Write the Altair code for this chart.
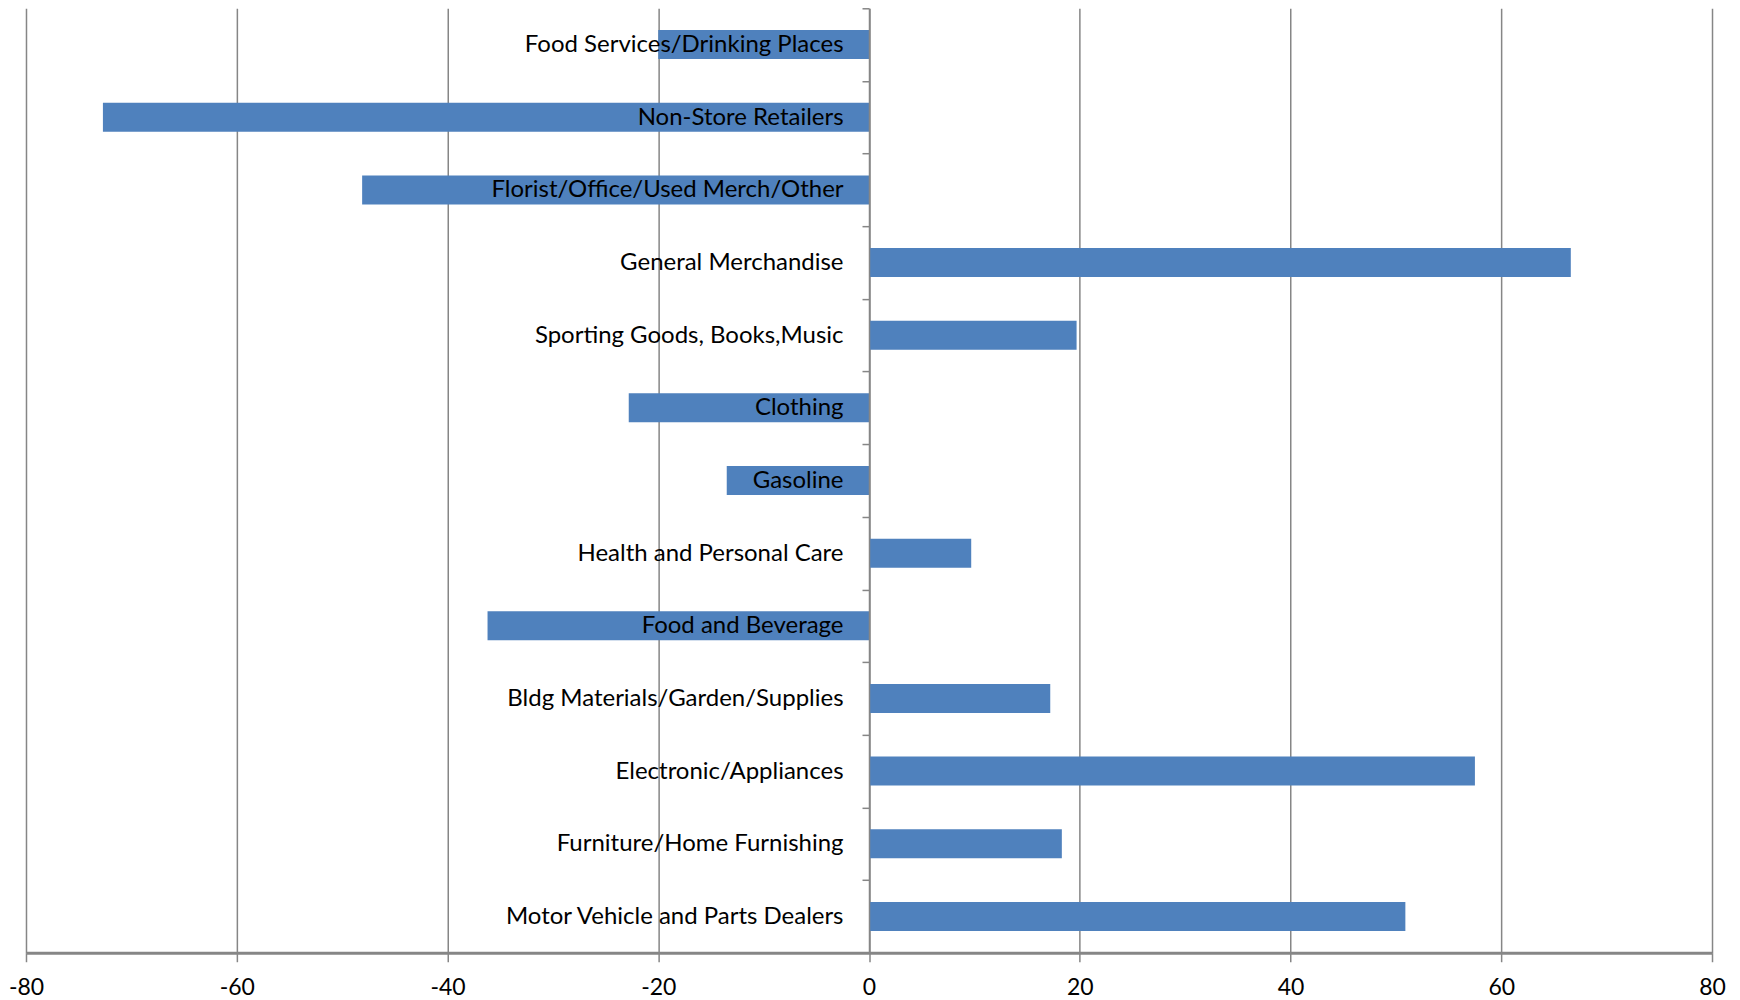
import altair as alt
import pandas as pd

categories = [
    "Food Services/Drinking Places",
    "Non-Store Retailers",
    "Florist/Office/Used Merch/Other",
    "General Merchandise",
    "Sporting Goods, Books,Music",
    "Clothing",
    "Gasoline",
    "Health and Personal Care",
    "Food and Beverage",
    "Bldg Materials/Garden/Supplies",
    "Electronic/Appliances",
    "Furniture/Home Furnishing",
    "Motor Vehicle and Parts Dealers",
]
values = [-20.0, -72.7, -48.1, 66.6, 19.7, -22.8, -13.5, 9.7, -36.2, 17.2, 57.5, 18.3, 50.9]
x_ticks = [-80, -60, -40, -20, 0, 20, 40, 60, 80]

df = pd.DataFrame({"category": categories, "value": values})

GRAY = "#868686"
FONT = "Lato"

W = 1687
H = 945
zero_offset = -(W / 2)

bars = alt.Chart(df).mark_bar(size=29, color="#4F81BD").encode(
    x=alt.X(
        "value:Q",
        scale=alt.Scale(domain=[-80, 80], nice=False),
        axis=alt.Axis(
            values=x_ticks,
            title=None,
            grid=True,
            gridColor=GRAY,
            gridWidth=1.5,
            domainColor=GRAY,
            domainWidth=3,
            tickColor=GRAY,
            tickWidth=1.5,
            tickSize=9,
            labelFont=FONT,
            labelFontSize=23,
            labelColor="#000000",
            labelPadding=15,
            labelFlush=False,
            labelExpr="'' + datum.value",
        ),
    ),
    y=alt.Y(
        "category:N",
        sort=categories,
        scale=alt.Scale(paddingInner=0, paddingOuter=0),
        axis=alt.Axis(
            title=None,
            orient="left",
            offset=zero_offset,
            zindex=1,
            grid=False,
            domainColor=GRAY,
            domainWidth=1.5,
            tickColor=GRAY,
            tickWidth=1.5,
            tickSize=7,
            tickBand="extent",
            labelFont=FONT,
            labelFontSize=24,
            labelColor="#000000",
            labelPadding=19,
            labelLimit=600,
        ),
    ),
)

chart = bars.properties(
    width=W,
    height=H,
    background="#ffffff",
    autosize=alt.AutoSizeParams(type="none"),
    padding={"left": 18, "top": 0, "right": 20, "bottom": 50},
).configure_view(stroke=None)

chart.save("out.html", embed_options={"renderer": "svg", "actions": False})
